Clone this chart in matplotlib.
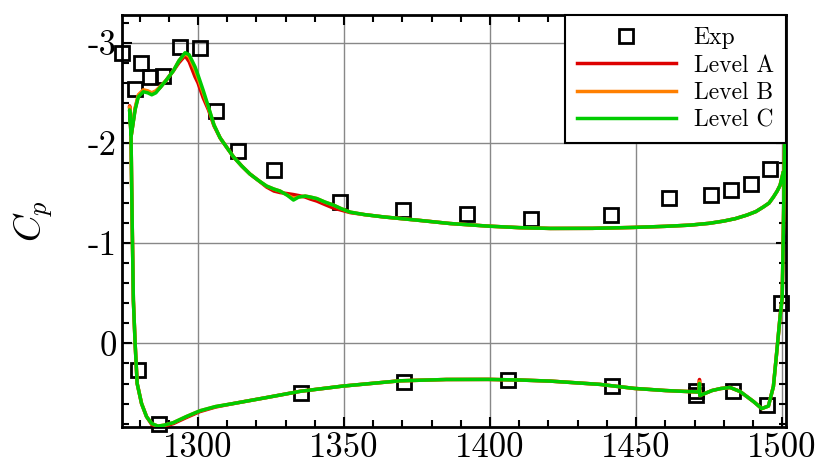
import numpy as np
import matplotlib
matplotlib.use("Agg")
import matplotlib.pyplot as plt
from matplotlib.ticker import MultipleLocator

# ==================================================
# DATA
# ==================================================
# experimental points
exp_x = [1274.1, 1278.5, 1280.5, 1283.5, 1288.0, 1293.9, 1300.8, 1306.1,
         1313.6, 1325.9, 1348.5, 1370.2, 1392.0, 1414.1, 1441.5, 1461.3,
         1475.6, 1482.5, 1489.3, 1495.9, 1499.6, 1494.8, 1483.2, 1470.5,
         1470.5, 1441.6, 1406.1, 1370.7, 1335.3, 1286.6, 1279.4]
exp_cp = [-2.90, -2.535, -2.795, -2.66, -2.67, -2.96, -2.95, -2.32,
          -1.917, -1.73, -1.412, -1.334, -1.287, -1.246, -1.279, -1.452,
          -1.479, -1.528, -1.595, -1.735, -0.407, 0.617, 0.477, 0.47,
          0.51, 0.421, 0.361, 0.383, 0.49, 0.807, 0.265]

# upper surface (leading edge -> trailing edge)
upper_x = [1277.2, 1278.5, 1279.6, 1281.3, 1282.8, 1284.2, 1285.6, 1287.0,
           1289.0, 1291.6, 1293.5, 1295.6, 1297.0, 1299.0, 1300.0, 1301.8,
           1303.6, 1305.5, 1307.6, 1310.0, 1312.2, 1315.0, 1317.8, 1320.5,
           1323.5, 1326.0, 1328.1, 1330.5, 1332.7, 1334.5, 1336.7, 1338.5,
           1340.7, 1343.5, 1346.4, 1349.0, 1352.1, 1357.0, 1363.5, 1374.9,
           1386.3, 1399.4, 1410.0, 1420.6, 1435.0, 1449.1, 1460.0, 1468.5,
           1475.0, 1479.9, 1484.0, 1487.9, 1491.0, 1493.6, 1495.5, 1497.0,
           1498.3, 1499.3, 1500.3]
upper_c = [-2.08, -2.33, -2.46, -2.51, -2.50, -2.48, -2.50, -2.55,
           -2.62, -2.72, -2.82, -2.90, -2.88, -2.76, -2.68, -2.525,
           -2.36, -2.18, -2.05, -1.95, -1.86, -1.77, -1.69, -1.63,
           -1.57, -1.54, -1.52, -1.48, -1.43, -1.46, -1.47, -1.46,
           -1.445, -1.41, -1.38, -1.345, -1.31, -1.285, -1.262, -1.23,
           -1.196, -1.17, -1.155, -1.147, -1.148, -1.157, -1.168, -1.18,
           -1.198, -1.22, -1.245, -1.28, -1.315, -1.362, -1.40, -1.46,
           -1.52, -1.578, -1.70]
upper_b = [-2.08, -2.35, -2.48, -2.53, -2.52, -2.50, -2.52, -2.56,
           -2.62, -2.72, -2.82, -2.89, -2.86, -2.73, -2.65, -2.50,
           -2.35, -2.18, -2.05, -1.95, -1.86, -1.77, -1.69, -1.63,
           -1.57, -1.54, -1.52, -1.48, -1.45, -1.46, -1.47, -1.46,
           -1.445, -1.41, -1.38, -1.345, -1.31, -1.285, -1.262, -1.23,
           -1.196, -1.17, -1.155, -1.147, -1.148, -1.157, -1.168, -1.18,
           -1.198, -1.22, -1.245, -1.28, -1.315, -1.362, -1.40, -1.46,
           -1.52, -1.578, -1.70]
upper_a = [-2.08, -2.34, -2.47, -2.52, -2.51, -2.49, -2.51, -2.55,
           -2.62, -2.72, -2.80, -2.87, -2.81, -2.66, -2.60, -2.45,
           -2.33, -2.17, -2.05, -1.95, -1.86, -1.77, -1.69, -1.63,
           -1.56, -1.52, -1.505, -1.495, -1.485, -1.475, -1.46, -1.44,
           -1.42, -1.385, -1.35, -1.33, -1.305, -1.285, -1.262, -1.23,
           -1.196, -1.17, -1.155, -1.147, -1.148, -1.157, -1.168, -1.18,
           -1.198, -1.22, -1.245, -1.28, -1.315, -1.362, -1.40, -1.46,
           -1.52, -1.578, -1.70]

# lower surface (leading edge tip -> trailing edge)
lower_x = [1276.6, 1277.1, 1277.3, 1277.6, 1277.9, 1278.5, 1279.2, 1280.7,
           1282.4, 1284.2, 1286.3, 1288.5, 1291.6, 1296.0, 1300.7, 1306.0,
           1312.1, 1323.5, 1335.0, 1349.5, 1369.2, 1385.0, 1399.4, 1410.0,
           1420.6, 1437.7, 1449.4, 1460.0, 1466.0, 1471.6, 1471.7, 1471.8,
           1476.0, 1479.0, 1482.2, 1485.6, 1490.2, 1493.0, 1495.3, 1497.0,
           1498.2, 1499.3, 1500.0, 1500.4, 1500.8, 1501.2]
lower_c = [-2.33, -2.08, -1.60, -1.00, -0.43, 0.00, 0.40, 0.60,
           0.73, 0.80, 0.825, 0.815, 0.79, 0.73, 0.672, 0.63,
           0.60, 0.54, 0.478, 0.426, 0.373, 0.36, 0.359, 0.365,
           0.376, 0.409, 0.449, 0.47, 0.478, 0.485, 0.40, 0.52,
           0.47, 0.45, 0.44, 0.48, 0.58, 0.65, 0.625, 0.43,
           0.07, -0.27, -0.45, -1.10, -1.90, -2.60]
lower_b = [-2.36, -2.08, -1.60, -1.00, -0.43, 0.00, 0.40, 0.60,
           0.73, 0.80, 0.825, 0.815, 0.79, 0.73, 0.672, 0.63,
           0.60, 0.54, 0.478, 0.426, 0.373, 0.36, 0.359, 0.365,
           0.376, 0.409, 0.449, 0.47, 0.478, 0.485, 0.38, 0.52,
           0.47, 0.45, 0.44, 0.48, 0.58, 0.65, 0.625, 0.43,
           0.07, -0.27, -0.45, -1.10, -1.90, -2.60]
lower_a = [-2.37, -2.08, -1.60, -1.00, -0.43, 0.00, 0.40, 0.60,
           0.73, 0.81, 0.83, 0.825, 0.80, 0.74, 0.68, 0.635,
           0.60, 0.54, 0.478, 0.426, 0.373, 0.36, 0.359, 0.365,
           0.376, 0.409, 0.449, 0.47, 0.478, 0.485, 0.36, 0.52,
           0.47, 0.45, 0.44, 0.48, 0.58, 0.65, 0.625, 0.43,
           0.07, -0.27, -0.45, -1.10, -1.90, -2.60]

levels = ["Level A", "Level B", "Level C"]
colors = ["#dd0000", "#ff7f00", "#00cc00"]

# ==================================================
# PLOT
# ==================================================
plt.rcParams["font.family"] = ["cmr10", "DejaVu Serif"]
plt.rcParams["mathtext.fontset"] = "cm"
plt.rcParams["axes.unicode_minus"] = False

fig = plt.figure(figsize=(8.17, 4.65), dpi=100)
ax = fig.add_axes([0.1493, 0.0817, 0.8127, 0.886])

ax.plot(exp_x, exp_cp, "s", ms=10.5, mfc="none", mec="black", mew=2,
        clip_on=False, label="Exp", zorder=2)

uppers = [upper_a, upper_b, upper_c]
lowers = [lower_a, lower_b, lower_c]
for i in range(3):
    x = np.concatenate([upper_x[::-1], lower_x])
    y = np.concatenate([uppers[i][::-1], lowers[i]])
    ax.plot(x, y, color=colors[i], lw=2.5, label=levels[i], zorder=3)

ax.set_xlim(1274, 1501.3)
ax.set_ylim(0.834, -3.276)

ax.xaxis.set_major_locator(MultipleLocator(50))
ax.xaxis.set_minor_locator(MultipleLocator(10))
ax.set_yticks([-3, -2, -1, 0])
ax.set_yticklabels(["-3", "-2", "-1", "0"])
ax.yaxis.set_minor_locator(MultipleLocator(0.2))

ax.tick_params(which="both", direction="in", top=True, right=True,
               width=1.5, labelsize=25, color="black")
ax.tick_params(which="major", length=7.5)
ax.tick_params(which="minor", length=4.7)
ax.tick_params(axis="x", pad=4)

for s in ax.spines.values():
    s.set_linewidth(2)
    s.set_color("black")

ax.grid(True, which="major", color="#888888", lw=1)
ax.set_axisbelow(True)

ax.set_ylabel("$C_p$", fontsize=27, labelpad=24)

leg = ax.legend(loc="upper right", bbox_to_anchor=(1, 1), borderaxespad=0,
                fontsize=17, numpoints=1, handlelength=4.2,
                handletextpad=0.75, labelspacing=0.22, borderpad=0.51,
                fancybox=False, framealpha=1)
leg.get_frame().set_edgecolor("black")
leg.get_frame().set_linewidth(1.5)
leg.set_zorder(5)

fig.savefig("out.png", dpi=100)
